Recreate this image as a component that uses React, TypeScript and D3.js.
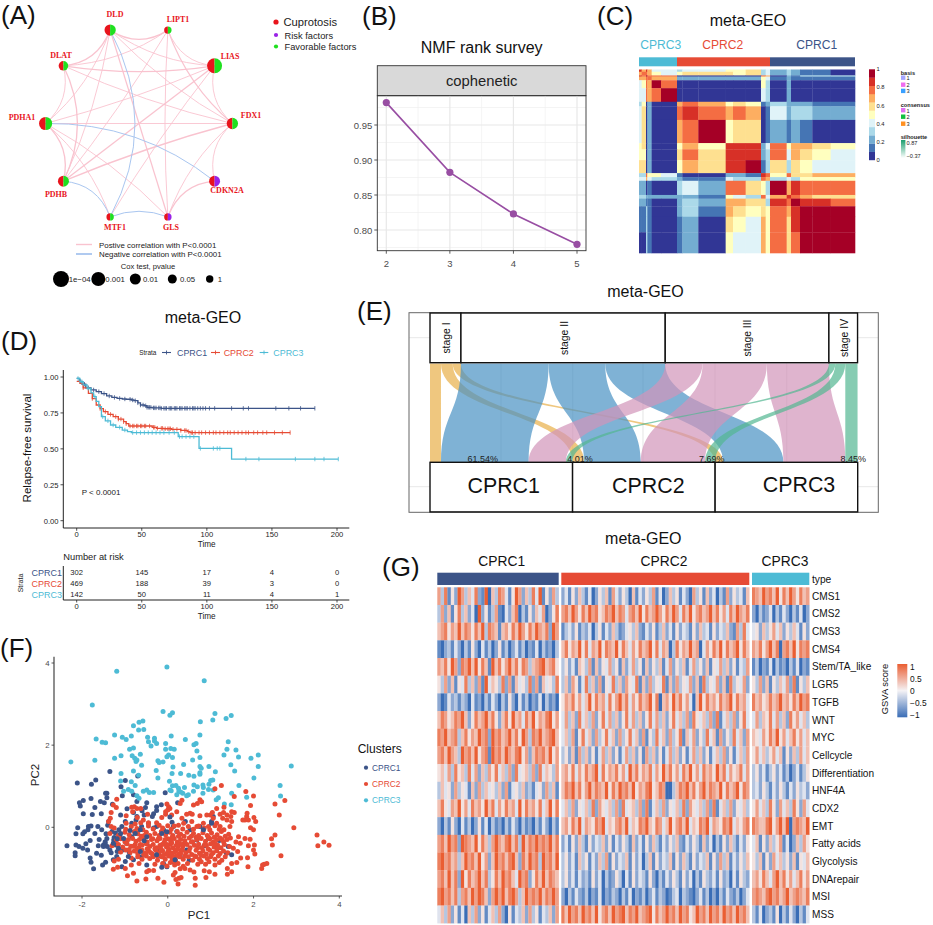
import React from "react";
import * as d3 from "d3";

const SANS = "'Liberation Sans', Arial, sans-serif";
const C1 = "#3c5488", C2 = "#e64b35", C3 = "#4dbbd5";
const clusterNames = ["CPRC1", "CPRC2", "CPRC3"];
const clusterColors = [C1, C2, C3];

/* ---------- A: network ---------- */
const geneNames = ["FDX1", "LIAS", "LIPT1", "DLD", "DLAT", "PDHA1", "PDHB", "MTF1", "GLS", "CDKN2A"];
const geneLogP = [2.1, 3.5, 0, 2.1, 1.5, 2.7, 2, 0, 0, 2];
const geneRisk = ["CDKN2A", "GLS"];
const positiveEdges: [string, string][] = [
  ["DLD", "LIPT1"], ["DLD", "LIAS"], ["DLD", "FDX1"], ["DLD", "DLAT"], ["DLD", "PDHA1"], ["DLD", "PDHB"], ["DLD", "GLS"],
  ["LIPT1", "LIAS"], ["LIPT1", "DLAT"], ["LIPT1", "FDX1"], ["LIPT1", "GLS"], ["LIPT1", "PDHB"],
  ["DLAT", "LIAS"], ["DLAT", "FDX1"], ["DLAT", "PDHA1"], ["DLAT", "PDHB"],
  ["LIAS", "FDX1"], ["LIAS", "PDHA1"], ["LIAS", "PDHB"], ["LIAS", "MTF1"],
  ["FDX1", "PDHA1"], ["FDX1", "PDHB"], ["FDX1", "CDKN2A"], ["FDX1", "GLS"],
  ["PDHA1", "PDHB"], ["PDHA1", "MTF1"], ["PDHA1", "GLS"], ["CDKN2A", "GLS"],
];
const negativeEdges: [string, string, number][] = [
  ["DLD", "MTF1", 1.72], ["PDHA1", "CDKN2A", 1.05], ["PDHB", "MTF1", 0.2], ["MTF1", "GLS", 0.12],
];
const coxLabels = ["1e\u221204", "0.001", "0.01", "0.05", "1"];
const coxLogP = [4, 3, 2, 1.3, 0];
const factorNames = ["Cuprotosis", "Risk factors", "Favorable factors"];

/* ---------- B: rank survey ---------- */
const ranks = [2, 3, 4, 5];
const cophenetic = [0.982, 0.8824, 0.8229, 0.7796];

/* ---------- C: consensus matrix (symmetric blocks, level 0-a) ---------- */
const consensusBreaks = [0, 8, 21, 25, 38, 66, 114, 130, 178, 260, 282, 320, 366, 380, 393, 443, 456, 483, 520, 575, 648];
const consensusUpper = [
  "97974434455634232110", "8875456665634232110", "a88800000087021333", "87722222254121111",
  "a800000053020000", "a00000043020000", "78756512322211", "9878701423322", "a56601212100",
  "99924857765", "9923847654", "a13636544", "98586677", "7343555", "a79888", "98766", "a998", "aaa", "aa", "a",
];
const consensusPalette = ["#313695", "#4575b4", "#74add1", "#abd9e9", "#e0f3f8", "#ffffbf", "#fee090", "#fdae61", "#f46d43", "#d73027", "#a50026"];
const consensusTicks = [0, 0.2, 0.4, 0.6, 0.8, 1];

/* ---------- D: survival ---------- */
const km1T = [0, 2, 4, 7, 11, 15, 19, 23, 27, 31, 35, 38, 42, 44, 47, 49, 52, 54, 58, 65, 183];
const km1S = [0.99, 0.97, 0.95, 0.925, 0.91, 0.898, 0.885, 0.868, 0.858, 0.851, 0.847, 0.845, 0.84, 0.835, 0.82, 0.805, 0.8, 0.789, 0.785, 0.782, 0.782];
const km2T = [0, 2.5, 5, 9, 12, 15, 18, 20.5, 24, 28, 32, 36, 38, 40, 54, 58, 61.5, 67, 73, 80, 85, 87, 164];
const km2S = [0.97, 0.956, 0.925, 0.886, 0.85, 0.805, 0.78, 0.759, 0.74, 0.724, 0.707, 0.689, 0.675, 0.659, 0.659, 0.65, 0.643, 0.64, 0.636, 0.628, 0.62, 0.613, 0.613];
const km3T = [0, 2.5, 5, 8, 11, 13, 15, 17, 19, 22, 26, 30, 35, 39, 42, 77, 78, 92, 94, 119, 201];
const km3S = [0.99, 0.967, 0.945, 0.92, 0.89, 0.863, 0.83, 0.794, 0.724, 0.695, 0.666, 0.65, 0.631, 0.62, 0.613, 0.613, 0.585, 0.585, 0.503, 0.429, 0.429];
const km1Cens = [3, 6, 9, 13, 17, 21, 25, 29, 33, 37, 41, 43, 45, 47, 49, 51, 53, 54, 55, 56, 57, 59, 60, 61, 63, 64, 65, 67, 68, 69, 71, 72, 73, 75, 76, 77, 79, 80, 81, 83, 84, 85, 87, 89, 90, 91, 93, 95, 97, 99, 102, 106, 119, 128, 132, 153, 163, 172, 183];
const km2Cens = [5, 12, 18, 22, 26, 30, 32, 34, 36, 38, 41, 43, 44, 46, 47, 49, 50, 52, 53, 56, 59, 60, 62, 65, 66, 68, 70, 71, 72, 74, 77, 80, 83, 84, 86, 88, 89, 91, 94, 96, 99, 102, 105, 107, 110, 113, 116, 118, 121, 124, 127, 130, 132, 136, 139, 143, 146, 152, 158, 164];
const km3Cens = [1, 4, 9, 14, 20, 24, 28, 33, 37, 43, 46, 49, 52, 55, 58, 61, 64, 67, 71, 75, 79, 81, 84, 87, 90, 95, 105, 108, 110, 130, 140, 168, 183, 190, 201];
const riskTimes = [0, 50, 100, 150, 200];
const risk1 = [302, 145, 17, 4, 0];
const risk2 = [469, 188, 39, 3, 0];
const risk3 = [142, 50, 11, 4, 1];
const survTicks = [0, 0.25, 0.5, 0.75, 1];

/* ---------- E: alluvial (percent of each cluster) ---------- */
const stageNames = ["stage I", "stage II", "stage III", "stage IV"];
const stageI = [7.7, 8.2, 5.8];
const stageII = [61.5, 39.7, 42.1];
const stageIII = [26.2, 45.1, 43.5];
const stageIV = [4.5, 7.0, 8.6];
const stageColors = ["#E8AF48", "#4892C3", "#D194B9", "#52B691"];
const pctLabels = ["61.54%", "4.01%", "7.69%", "8.45%"];

/* ---------- F: PCA ---------- */
const pcaC1 = [-1.35,1.36,-2.11,1.08,-1.78,1.05,-1.68,1.15,-.7,1.25,-.99,1.14,-1.09,.99,-1.42,.83,-1.45,.83,-1.42,.72,-1.97,.65,-2.06,.6,-2.04,.52,-1.79,.7,-1.57,.63,-1.48,.6,-1.7,.48,-1.97,.33,-1.55,.33,-1.76,.31,-1.29,.56,-1.06,.77,-.8,.79,-.72,.63,-.49,.6,-.52,.48,-.06,.84,-.26,.5,-.26,.41,-.33,.33,-.8,.36,-.72,.26,-.55,.3,-.36,.26,.23,.6,-2.1,-.01,-1.85,.02,-1.79,.03,-1.86,-.06,-1.94,-.11,-1.98,-.16,-2.14,-.16,-2.35,-.45,-2.14,-.43,-2.07,-.47,-1.98,-.51,-2.16,-.62,-2.16,-.69,-1.87,-.55,-1.81,-.32,-1.91,-.4,-1.66,-.63,-1.55,-.68,-1.81,-.75,-1.79,-.85,-1.73,-1.01,-1.52,-.92,-1.45,-.85,-1.27,-.79,-1.19,-.71,-1.63,.02,-1.54,-.06,-1.38,.14,-1.44,-.16,-1.42,-.27,-1.46,-.35,-1.5,-.43,-1.41,-.47,-1.35,-.55,-1.18,-.59,-1.22,-.43,-1.26,-.31,-1.22,-.14,-1.14,-.06,-1.07,.02,-.99,.14,-.84,.1,-.74,.18,-.61,.02,-.45,.1,-.33,-.02,-.26,.02,-.1,-.06,-.06,-.14,.13,.02,.21,-.1,.52,-.06,.75,.02,.83,-.06,1.02,.14,1.06,.26,.95,-.27,.68,-.31,.44,-.55,.29,-.71,-.1,-.88,-.02,-.96,-.49,-.92,-.8,-.79,-.99,-.83,-1.07,-.96,-.64,-.55,-.96,-.39,-.84,-.23,-.72,-.14,-.49,-.39,-.26,-.55,1.37,-.63,1.41,-.47,.41,.14,-1.12,-.2,-1.05,-.55,-.9,-.6,-.62,-.72,-.2,-.7,.15,-.85,.5,-.8,.85,-.45,1.2,-.32,-1.25,-.25,-1.3,-.1,-1.4,.05,-1.6,-.3,-1.62,-.45,-1.7,-.15,-1.1,.3,-.95,.45,-.6,.4,-.15,.55,.1,.12];
const pcaC1Top = [-.02,-.11,-.14,-.15,-.64,-.06,-.76,-.15,-.49,-.23,-1.03,-.27,-1.27,-.39,-1.15,-.51,-1.46,-.39,-1.5,-.47,-.26,-.67,.17,-.79,.83,-.06,1.02,.1,1.49,-.67,-.14,-.97,-.64,-.59,-.92,-.71,-1.1,-.15,-1.18,-.28,-.88,-.08,-.55,-.33,-1.32,-.62,.05,.25];
const pcaC3 = [-1.19,3.8,-.02,3.9,.85,3.57,-1.76,2.98,-.11,2.82,.11,2.79,.05,2.73,1.1,2.77,1.48,2.72,1.36,2.65,1.05,2.61,.76,2.57,-.67,2.56,-.58,2.59,-.8,2.47,-.68,2.37,-.56,2.38,-1.24,2.25,-1.67,2.15,-1.53,2.07,-1.45,2.06,-1.06,2.19,-.97,2.14,-.85,2.22,-.47,2.19,-.45,2.08,-.31,2.17,-.31,2.1,-.26,2.04,-.39,1.98,-.05,2.04,.08,2.22,.41,2.14,.75,2.25,.61,2.01,.66,2.04,1.41,2.08,-2.26,1.59,-1.7,1.63,-1.24,1.68,-1.09,1.74,-.89,1.9,-.8,1.93,-.64,1.78,-.83,1.74,-.77,1.68,-.72,1.64,-.74,1.6,-.61,1.51,-.23,1.62,-.2,1.58,-.11,1.59,-.05,1.9,.07,1.92,.15,1.9,.02,1.76,-.02,1.72,.11,1.7,.68,1.86,.75,1.7,.58,1.64,.37,1.53,.12,1.47,.75,1.48,.78,1.44,.96,1.48,1.31,1.76,1.38,1.9,1.59,1.88,1.65,1.71,1.47,1.52,1.56,1.37,1.94,1.68,2.11,1.76,2.11,1.48,2.88,1.49,2.01,1.2,1.11,1.35,.75,1.33,.75,1.29,.49,1.27,.61,1.24,.3,1.31,.1,1.31,.04,1.12,-.27,1.38,-.23,1.2,-.8,1.37,-1.09,1.31,-.68,1.27,-.85,1.11,-1.1,1.13,-.76,1.02,-.92,.92,-1.03,.88,-.84,.88,-.57,.88,-.49,.91,-.43,.85,-.33,.85,-.72,.77,-.67,.71,.05,.91,.11,1.01,.19,1.02,.08,.89,.25,.95,.26,.88,.3,.86,.39,.97,.21,.79,.35,.83,.48,.79,.44,.77,.61,1.03,.69,.99,.82,1.03,.83,.97,.6,.88,.82,.83,.96,1.05,1,1.14,1.05,1.15,.95,.92,1.06,.91,1.18,.72,1.13,.67,1.32,.57,1.48,.55,1.49,.83,1.66,1.02,2.62,1.02,2.63,.76,1.84,.73];
const pcaC2 = [3.48,-.19,3.5,-.45,3.64,-.36,3.76,-.44,2.94,-.01,2.73,.65,2.5,.57,2.6,.3,2.5,-.19,2.42,-.28,2.44,-.43,2.64,-.69,2.31,-.88,2.25,-.9,2.21,-.92,2.19,-1,2,.76,1.82,.87,1.93,.53,1.55,.75,1.25,1.02,1.1,.94,2.01,.24,2.05,.14,1.85,.34,1.84,.26,1.8,.18,1.75,.18,1.88,.18,1.93,-.01,2,-.06,2.02,-.43,2,-.55,2.03,-.65,1.88,-.45,1.8,-.27,1.92,-.29,1.65,-.23,1.59,-.36,1.69,-.39,1.53,-.51,1.63,-.59,1.86,-.74,1.7,-.75,1.61,-.86,1.87,-.96,1.49,-.88,1.39,-1,1.39,-1.14,1.49,-1.08,.64,-1.41,.24,-1.38,.26,-1.24,.31,-1.22,.19,-1.27,-.09,-1.34,-.23,-1.24,-.51,-1.26,-.72,-1.31,-.94,-1.18,-.8,-1.12,-.49,-1.08,-.44,-1.05,-.33,-1.05,.13,-1.16,.17,-1.1,.64,-1.24,.89,-1.22,.85,-1.06,.97,-1.08,1.1,-1.14,.61,-1.09,.52,-1.04,.4,-1,.29,-1.01,-1.27,-1.02,-1.17,-.97,-.99,-1,-.85,-.92,-.67,-.88,-1.19,.68,-1.27,.54,-1.2,.48,-1.32,.36,-1.38,.14,-1.34,.22,-.97,.28,-.84,.49,-.78,.5,-.72,.46,-.82,.38,-.63,.46,-.47,.32,-.71,.24,-.97,.1,-.76,.08,-.63,.11,-.57,.18,-.45,.11,-.26,.11,-.14,.24,-.05,.38,-.02,.57,.02,.5,.05,.46,0,.42,-.05,.32,.09,.3,.21,.38,.33,.66,.29,.58,.6,.54,.69,.58,.79,.62,.75,.67,1.14,.46,1.31,.49,1.04,.36,.99,.3,1.22,.32,1.3,.36,1.38,.3,1.49,.38,1.55,.36,1.47,.26,1.38,.18,1.28,.22,1.49,.14,1.45,.02,1.06,.22,.91,.3,.75,.28,.57,.32,.52,.34,.44,.32,.33,.22,.37,.1,.56,.14,.68,.02,.83,.1,.95,.02,1.14,.1,1.22,.02,1.31,-.06,
-1.35,-.15,-1.15,-.2,-1,-.12,-.9,-.18,-.78,-.1,-.7,-.16,-.62,-.22,-.5,-.12,-.42,-.2,-.3,-.15,-.15,-.1,-.05,-.18,.05,-.12,.12,-.2,.22,-.1,.3,-.17,.38,-.22,.45,-.12,.6,-.15,.72,-.2,.82,-.13,.92,-.2,1.02,-.14,1.15,-.18,1.25,-.1,1.34,-.22,1.42,-.17,
-1.2,-.32,-1.1,-.28,-1,-.35,-.92,-.3,-.82,-.27,-.74,-.34,-.66,-.3,-.56,-.28,-.48,-.36,-.38,-.3,-.25,-.33,-.18,-.27,-.08,-.36,0,-.28,.08,-.34,.15,-.27,.22,-.36,.3,-.3,.4,-.33,.5,-.26,.58,-.35,.68,-.3,.78,-.27,.88,-.34,.98,-.28,1.06,-.36,1.14,-.3,1.22,-.26,1.3,-.35,1.38,-.3,1.46,-.26,
-1.3,-.45,-1.15,-.42,-1.05,-.48,-.95,-.4,-.86,-.46,-.76,-.42,-.68,-.5,-.6,-.44,-.5,-.4,-.42,-.47,-.34,-.42,-.26,-.5,-.18,-.44,-.1,-.4,-.03,-.48,.05,-.42,.12,-.5,.2,-.44,.27,-.4,.35,-.47,.45,-.42,.52,-.5,.62,-.44,.72,-.41,.8,-.5,.9,-.44,1,-.4,1.08,-.48,1.16,-.43,1.24,-.5,1.32,-.42,1.44,-.47,
-1.1,-.6,-.98,-.55,-.88,-.62,-.78,-.58,-.7,-.64,-.6,-.56,-.52,-.63,-.44,-.58,-.36,-.65,-.28,-.56,-.2,-.62,-.12,-.57,-.04,-.65,.03,-.56,.1,-.63,.18,-.58,.26,-.65,.34,-.55,.42,-.62,.5,-.58,.56,-.66,.66,-.56,.74,-.63,.82,-.58,.9,-.65,.98,-.56,1.06,-.62,1.14,-.57,1.22,-.64,1.3,-.58,1.4,-.62,
-1.25,-.82,-1.15,-.78,-.85,-.75,-.7,-.72,-.6,-.78,-.5,-.7,-.42,-.76,-.34,-.72,-.24,-.8,-.14,-.72,-.06,-.78,.02,-.7,.1,-.76,.18,-.8,.28,-.72,.36,-.78,.48,-.72,.58,-.8,.66,-.72,.74,-.78,.84,-.7,.92,-.76,1,-.72,1.1,-.78,1.18,-.7,1.26,-.8,1.34,-.72,
-.3,-.9,-.12,-.88,-.02,-.94,.06,-.86,.16,-.92,.24,-.88,.36,-.95,.46,-.88,.7,-.9,.78,-.84,.88,-.9,.96,-.84,1.1,-.92,1.2,-.86,
-1.32,.02,-1.25,-.02,-.98,-.05,-.85,.02,-.72,-.03,-.58,-.06,-.45,.03,-.34,-.04,-.2,.05,-.12,-.02,0,.04,.08,-.05,.15,.03,.25,.05,.35,-.04,.48,.02,.6,-.05,.72,.03,.85,-.02,.98,-.06,1.1,.04,1.2,-.05,
-.22,-.28,-.13,-.42,-.06,-.3,.02,-.52,.09,-.38,.16,-.6,.24,-.46,.31,-.55,-.3,-.52,-.16,-.52,-.02,-.42,.07,-.68,.14,-.72,.22,-.54,.3,-.64,.38,-.4,-.24,-.7,-.1,-.68,0,-.6,.05,-.3,.12,-.82,.2,-.7,.4,-.7,.55,-.36,.63,-.7,.7,-.5,.78,-.68,.86,-.42,.94,-.52,1.02,-.66,1.1,-.4,1.18,-.5,1.26,-.3,.33,-.42,-.4,-.62,-.48,-.52,-.56,-.66,-.64,-.42,-.72,-.52,-.8,-.46,-.9,-.54,-.55,-.2,-.35,-.28,-.2,-.2,.1,-.24,.25,-.22,.55,-.22,.66,-.24,.95,-.24,1.08,-.24];

/* ---------- G: GSVA heat map (one digit per column, 0 = -1 ... 9 = +1; groups split by a space) ---------- */
const gsvaRows = ["CMS1", "CMS2", "CMS3", "CMS4", "Stem/TA_like", "LGR5", "TGFB", "WNT", "MYC", "Cellcycle", "Differentiation", "HNF4A", "CDX2", "EMT", "Fatty acids", "Glycolysis", "DNArepair", "MSI", "MSS"];
const gsvaCells = [
  "738152973648219063874159726384915273 24152631402536174253061425371402635142073516240317253416 87697869586975867",
  "372615836240925137104268031526470258 78697586978568796874786958679758697486957867968574869768 20312403142031402",
  "678576968758693876167586975869768297 13425132403514263124536214251362415243152634152436217384 45263574625364152",
  "102314203152041302513024130214031203 68576958476958769586475867958476038576967047586958679586 76857968078695878",
  "768597287969586196857968587367896785 35241653716254735162473516253614725361473526154736251437 13021403120314021",
  "537261548362719465382716453827164538 36275148362715483627548162735481627354726183547261835472 53726153647281536",
  "201423132041203142031520413021403120 57685746958674857968475867958067596857406958675867958674 86756867967586978",
  "687568796258679685268596748695768957 47362846372584736258473625847362584637285463728146372584 47365847362857463",
  "879678368576978297867968597387967896 46371584627358462735846271538462735816472538461725384627 65475869574685746",
  "786976397869578197869768957268786957 35261736251473625147362517362514736251473625146372514637 57463574615263746",
  "564738563847263758463728456372846537 67584758679485768574968576847596857486957486759684756847 35241352413024135",
  "364527354162736453627145362314527361 68796857968769586978695768956870036879685796876958679587 34253142531425342",
  "685476957486759684758674958675846958 46372546382754637284563728146372546382754637281463725463 57463852746385274",
  "203152041302514031203142031203142031 67586947658794657869465879658746957869465879476587946578 87668957969078769",
  "786978298769586379768968396879787968 24152631524362514253162415263142536214253162403152631425 46152635714026375",
  "897867369786957269786896286978397869 35241635142637152436152403615243615263152436152736142536 53615274635261546",
  "786968295867968358697864978258696876 35241423152403125304152431520314253152403153241523041532 67586479685746857",
  "897868378697986279796897369787968797 20314213021402132031402130241320134032102413020314213024 78768978679678768",
  "463725140637251463720514362735143627 86978697869578697896879678958679786978569786978697869786 31402315031420314",
];
const gsvaTicks = [1, 0.5, 0, -0.5, -1];
const gsvaColor = d3.scaleLinear<string>().domain([-1, 0, 1]).range(["#3a6db6", "#f4f2f5", "#ea5e32"]);

function Label({ x, y, t }: { x: number; y: number; t: string }) {
  return <text x={x} y={y} fontSize={26} fill="#111">{t}</text>;
}

function pairs(flat: number[]) {
  return d3.range(0, flat.length - 1, 2).map((i) => [flat[i], flat[i + 1]]);
}

function PanelA() {
  const cx = 139, cy = 123.5, rx = 93.4, ry = 98.2;
  const angle = d3.scaleLinear().domain([0, geneNames.length]).range([0, -2 * Math.PI]);
  const pos = (n: string) => {
    const i = geneNames.indexOf(n);
    return [cx + rx * Math.cos(angle(i)), cy + ry * Math.sin(angle(i))];
  };
  const radius = d3.scaleLinear().domain([0, 1.3, 2, 3, 4]).range([3.7, 4.5, 5.5, 7, 8]);
  const curve = (a: string, b: string, k: number) => {
    const [x0, y0] = pos(a), [x1, y1] = pos(b);
    const mx = (x0 + x1) / 2, my = (y0 + y1) / 2;
    const p = d3.path();
    p.moveTo(x0, y0);
    p.quadraticCurveTo(mx + (cx - mx) * k, my + (cy - my) * k, x1, y1);
    return p.toString();
  };
  const labelOff: Record<string, [number, number]> = {
    DLD: [115, 17], LIPT1: [178, 22], LIAS: [230, 59], FDX1: [251, 118], CDKN2A: [227, 193],
    GLS: [171, 230], MTF1: [115, 230], PDHB: [56, 197], PDHA1: [22, 120], DLAT: [61, 58],
  };
  const half = d3.arc<any>().innerRadius(0);
  return (
    <g>
      {positiveEdges.map(([a, b], i) => {
        const bent = (a === "DLAT" && b === "PDHB") ? 0.37 : (a === "DLAT" && b === "FDX1") ? 0.3 : 0.2;
        return <path key={i} d={curve(a, b, bent)} fill="none" stroke="#f9c3cf" strokeWidth={i % 3 === 0 ? 1.3 : 0.9} />;
      })}
      {negativeEdges.map(([a, b, k], i) => (
        <path key={i} d={curve(a, b, k)} fill="none" stroke="#a9c6f0" strokeWidth={1} />
      ))}
      {geneNames.map((n, i) => {
        const [x, y] = pos(n);
        const r = radius(geneLogP[i]);
        return (
          <g key={n} transform={`translate(${x},${y})`}>
            <path d={half({ outerRadius: r, startAngle: Math.PI, endAngle: 2 * Math.PI }) as string} fill="#e8141c" />
            <path d={half({ outerRadius: r, startAngle: 0, endAngle: Math.PI }) as string} fill={geneRisk.includes(n) ? "#9a22e6" : "#1fe01f"} />
          </g>
        );
      })}
      {geneNames.map((n) => (
        <text key={n} x={labelOff[n][0]} y={labelOff[n][1]} textAnchor="middle" fontFamily="'Liberation Serif', serif" fontWeight="bold" fontSize={8} fill="#e8141c">{n}</text>
      ))}
      {factorNames.map((n, i) => (
        <g key={n}>
          <circle cx={276} cy={[22, 35, 46.5][i]} r={i === 0 ? 2.6 : 2.1} fill={["#e8141c", "#9a22e6", "#1fe01f"][i]} />
          <text x={i === 0 ? 283.5 : 284.5} y={[26, 38.5, 50][i]} fontSize={i === 0 ? 11.2 : 9.3} fill="#222">{n}</text>
        </g>
      ))}
      <line x1={76} x2={92} y1={244.5} y2={244.5} stroke="#f9c3cf" strokeWidth={1.4} />
      <line x1={76} x2={92} y1={254} y2={254} stroke="#8fb4ea" strokeWidth={1.4} />
      <text x={99} y={247.5} fontSize={7.9} fill="#222">Postive correlation with P&lt;0.0001</text>
      <text x={99} y={257} fontSize={7.9} fill="#222">Negative correlation with P&lt;0.0001</text>
      <text x={148} y={269} fontSize={7.6} textAnchor="middle" fill="#222">Cox test, pvalue</text>
      {coxLabels.map((t, i) => {
        const x = [61, 98.3, 135.3, 172.3, 209.7][i];
        return (
          <g key={t}>
            <circle cx={x} cy={279} r={radius(coxLogP[i])} fill="#000" />
            <text x={x + [7.7, 7, 7.7, 7.7, 8][i]} y={282} fontSize={7.8} fill="#222">{t}</text>
          </g>
        );
      })}
    </g>
  );
}

function PanelB() {
  const x = d3.scaleLinear().domain([2, 5]).range([386.3, 577]);
  const y = d3.scaleLinear().domain([0.8, 0.95]).range([230, 125]);
  const left = 377.3, right = 586, top = 95.7, bottom = 250.7;
  const line = d3.line<number>().x((_, i) => x(ranks[i])).y((d) => y(d));
  const majorY = [0.8, 0.85, 0.9, 0.95];
  const minorY = [0.775, 0.825, 0.875, 0.925, 0.975];
  const minorX = [2.5, 3.5, 4.5];
  return (
    <g>
      <text x={481.7} y={53} fontSize={16} textAnchor="middle" fill="#111">NMF rank survey</text>
      <rect x={left} y={65.7} width={right - left} height={30} fill="#d9d9d9" stroke="#333" strokeWidth={0.9} />
      <text x={481.7} y={85.5} fontSize={14.8} textAnchor="middle" fill="#222">cophenetic</text>
      {minorY.map((v) => <line key={v} x1={left} x2={right} y1={y(v)} y2={y(v)} stroke="#efefef" strokeWidth={0.7} />)}
      {minorX.map((v) => <line key={v} x1={x(v)} x2={x(v)} y1={top} y2={bottom} stroke="#efefef" strokeWidth={0.7} />)}
      {majorY.map((v) => <line key={v} x1={left} x2={right} y1={y(v)} y2={y(v)} stroke="#e8e8e8" strokeWidth={1.2} />)}
      {ranks.map((v) => <line key={v} x1={x(v)} x2={x(v)} y1={top} y2={bottom} stroke="#e8e8e8" strokeWidth={1.2} />)}
      <rect x={left} y={top} width={right - left} height={bottom - top} fill="none" stroke="#333" strokeWidth={0.9} />
      <path d={line(cophenetic) as string} fill="none" stroke="#984ea3" strokeWidth={1.6} />
      {cophenetic.map((v, i) => <circle key={i} cx={x(ranks[i])} cy={y(v)} r={3.6} fill="#984ea3" />)}
      {majorY.map((v) => (
        <g key={v}>
          <line x1={left - 3} x2={left} y1={y(v)} y2={y(v)} stroke="#333" strokeWidth={0.8} />
          <text x={left - 5} y={y(v) + 3.5} fontSize={9.5} textAnchor="end" fill="#4d4d4d">{v.toFixed(2)}</text>
        </g>
      ))}
      {ranks.map((v) => (
        <g key={v}>
          <line x1={x(v)} x2={x(v)} y1={bottom} y2={bottom + 3} stroke="#333" strokeWidth={0.8} />
          <text x={x(v)} y={267} fontSize={9.5} textAnchor="middle" fill="#4d4d4d">{v}</text>
        </g>
      ))}
    </g>
  );
}

function PanelC() {
  const sx = d3.scaleLinear().domain([0, 648]).range([639, 855]);
  const sy = d3.scaleLinear().domain([0, 648]).range([69.5, 253]);
  const n = consensusBreaks.length - 1;
  const level = (i: number, j: number) => {
    const a = Math.min(i, j), b = Math.max(i, j);
    return parseInt(consensusUpper[a][b - a], 16);
  };
  const barY = d3.scaleLinear().domain([0, 1]).range([160, 69.3]);
  const annot = [0, 114, 393, 648];
  const annotColors = [C3, C2, C1];
  const annotCenters = [660.7, 722.7, 816.7];
  const annotNames = ["CPRC3", "CPRC2", "CPRC1"];
  const basis = ["#a6a6ff", "#f06ef0", "#3aa0ff"];
  const consensus = ["#e070f0", "#10c040", "#ff9020"];
  return (
    <g>
      <text x={748} y={26} fontSize={16} textAnchor="middle" fill="#111">meta-GEO</text>
      {annotNames.map((t, i) => (
        <g key={t}>
          <text x={annotCenters[i]} y={49.3} fontSize={12.1} textAnchor="middle" fill={annotColors[i]}>{t}</text>
          <rect x={sx(annot[i])} y={57.3} width={sx(annot[i + 1]) - sx(annot[i])} height={9} fill={annotColors[i]} />
        </g>
      ))}
      {d3.range(n).map((r) =>
        d3.range(n).map((c) => (
          <rect key={`${r}-${c}`} x={sx(consensusBreaks[c])} y={sy(consensusBreaks[r])}
            width={sx(consensusBreaks[c + 1]) - sx(consensusBreaks[c]) + 0.3}
            height={sy(consensusBreaks[r + 1]) - sy(consensusBreaks[r]) + 0.3}
            fill={consensusPalette[level(r, c)]} />
        ))
      )}
      {consensusPalette.map((col, i) => (
        <rect key={col} x={869} width={6} y={barY((i + 1) / 11)} height={barY(i / 11) - barY((i + 1) / 11) + 0.2} fill={col} />
      ))}
      {consensusTicks.map((v) => (
        <text key={v} x={876.5} y={barY(v) + 2} fontSize={5.8} fill="#222">{v}</text>
      ))}
      <text x={900.7} y={74.5} fontSize={5.6} fontWeight="bold" fill="#222">basis</text>
      {basis.map((col, i) => (
        <g key={col}>
          <rect x={901} y={[75.5, 82.5, 88.7][i]} width={4.4} height={4.4} fill={col} />
          <text x={906.5} y={[80, 87, 93][i]} fontSize={5.6} fill="#222">{i + 1}</text>
        </g>
      ))}
      <text x={900.7} y={106.5} fontSize={5.6} fontWeight="bold" fill="#222">consensus</text>
      {consensus.map((col, i) => (
        <g key={col}>
          <rect x={901} y={[108, 114.5, 121.5][i]} width={4.4} height={4.4} fill={col} />
          <text x={906.5} y={[112.5, 119, 126][i]} fontSize={5.6} fill="#222">{i + 1}</text>
        </g>
      ))}
      <text x={900.7} y={138.5} fontSize={5.6} fontWeight="bold" fill="#222">silhouette</text>
      <defs>
        <linearGradient id="sil" x1="0" y1="0" x2="0" y2="1">
          <stop offset="0" stopColor="#1b9e6f" />
          <stop offset="1" stopColor="#ffffff" />
        </linearGradient>
        <linearGradient id="gsva" x1="0" y1="0" x2="0" y2="1">
          {[1, 0.5, 0, -0.5, -1].map((v, i) => <stop key={i} offset={i / 4} stopColor={gsvaColor(v)} />)}
        </linearGradient>
      </defs>
      <rect x={901} y={140} width={4.4} height={18} fill="url(#sil)" />
      <text x={906.5} y={145} fontSize={5.6} fill="#222">0.87</text>
      <text x={906.5} y={157.5} fontSize={5.6} fill="#222">{"\u22120.37"}</text>
    </g>
  );
}

function PanelD() {
  const x = d3.scaleLinear().domain([0, 200]).range([76.7, 337]);
  const y = d3.scaleLinear().domain([0, 1]).range([520.7, 377]);
  const curves = [
    { t: km1T, s: km1S, cens: km1Cens },
    { t: km2T, s: km2S, cens: km2Cens },
    { t: km3T, s: km3S, cens: km3Cens },
  ];
  const step = d3.line<[number, number]>().curve(d3.curveStepAfter).x((d) => x(d[0])).y((d) => y(d[1]));
  const valueAt = (t: number[], s: number[], v: number) => s[Math.max(0, d3.bisectRight(t, v) - 1)];
  const rowY = [572.5, 583.5, 594.5];
  const risks = [risk1, risk2, risk3];
  const legendX = [[162, 171, 177], [211, 220, 223.7], [259.7, 268.3, 273.3]];
  return (
    <g>
      <text x={203} y={322.7} fontSize={16} textAnchor="middle" fill="#111">meta-GEO</text>
      <text x={139.3} y={355} fontSize={6.4} fill="#222">Strata</text>
      {clusterNames.map((n, i) => (
        <g key={n}>
          <line x1={legendX[i][0]} x2={legendX[i][1]} y1={352.5} y2={352.5} stroke={clusterColors[i]} strokeWidth={1.1} />
          <line x1={(legendX[i][0] + legendX[i][1]) / 2} x2={(legendX[i][0] + legendX[i][1]) / 2} y1={350.5} y2={354.5} stroke={clusterColors[i]} strokeWidth={0.9} />
          <text x={legendX[i][2]} y={356} fontSize={8.9} fill={clusterColors[i]}>{n}</text>
        </g>
      ))}
      <path d={`M63.3,370V528H349.3`} fill="none" stroke="#222" strokeWidth={1} />
      {survTicks.map((v) => (
        <g key={v}>
          <line x1={60.5} x2={63.3} y1={y(v)} y2={y(v)} stroke="#222" strokeWidth={0.8} />
          <text x={58.5} y={y(v) + 2.8} fontSize={7.6} textAnchor="end" fill="#222">{v.toFixed(2)}</text>
        </g>
      ))}
      {riskTimes.map((v) => (
        <g key={v}>
          <line x1={x(v)} x2={x(v)} y1={528} y2={530.8} stroke="#222" strokeWidth={0.8} />
          <text x={x(v)} y={537} fontSize={7.6} textAnchor="middle" fill="#222">{v}</text>
          <line x1={x(v)} x2={x(v)} y1={600} y2={602.5} stroke="#222" strokeWidth={0.8} />
          <text x={x(v)} y={609} fontSize={7.6} textAnchor="middle" fill="#222">{v}</text>
        </g>
      ))}
      <text x={206.7} y={546.5} fontSize={8.2} textAnchor="middle" fill="#222">Time</text>
      <text x={206.7} y={618.5} fontSize={8.2} textAnchor="middle" fill="#222">Time</text>
      <text transform="translate(31,448) rotate(-90)" fontSize={11.6} textAnchor="middle" fill="#111">Relapse-free survival</text>
      <text x={81.7} y={495} fontSize={8} fill="#222">P &lt; 0.0001</text>
      {curves.map((c, i) => (
        <g key={i}>
          <path d={step(c.t.map((t, k) => [t, c.s[k]]) as [number, number][]) as string} fill="none" stroke={clusterColors[i]} strokeWidth={1.3} />
          {c.cens.map((t, k) => {
            const v = valueAt(c.t, c.s, t);
            return <line key={k} x1={x(t)} x2={x(t)} y1={y(v) - 2.2} y2={y(v) + 2.2} stroke={clusterColors[i]} strokeWidth={0.8} />;
          })}
        </g>
      ))}
      <text x={63.3} y={560} fontSize={9.3} fill="#222">Number at risk</text>
      <path d={`M63.3,566V600H349.3`} fill="none" stroke="#222" strokeWidth={1} />
      <text transform="translate(23,583) rotate(-90)" fontSize={7} textAnchor="middle" fill="#222">Strata</text>
      {clusterNames.map((n, i) => (
        <g key={n}>
          <text x={62} y={rowY[i] + 3.2} fontSize={9} textAnchor="end" fill={clusterColors[i]}>{n}</text>
          {risks[i].map((v, k) => (
            <text key={k} x={x(riskTimes[k])} y={rowY[i] + 2.8} fontSize={7.6} textAnchor="middle" fill="#222">{v}</text>
          ))}
        </g>
      ))}
    </g>
  );
}

function PanelE() {
  const stages = [stageI, stageII, stageIII, stageIV];
  const sx = d3.scaleLinear().domain([0, 300]).range([430, 857.7]);
  const yTop = 363.4, yBot = 462.3;
  const stageTotals = stages.map((s) => d3.sum(s));
  const topStart = d3.cumsum([0, ...stageTotals]);
  const botOffset = [0, 0, 0];
  const ribbons: { s: number; d: string }[] = [];
  stages.forEach((row, s) => {
    let t = topStart[s];
    row.forEach((v, c) => {
      const b = c * 100 + botOffset[c];
      botOffset[c] += v;
      const x0 = sx(t), x1 = sx(t + v), x2 = sx(b), x3 = sx(b + v);
      const m = (yTop + yBot) / 2;
      const p = d3.path();
      p.moveTo(x0, yTop);
      p.lineTo(x1, yTop);
      p.bezierCurveTo(x1, m, x3, m, x3, yBot);
      p.lineTo(x2, yBot);
      p.bezierCurveTo(x2, m, x0, m, x0, yTop);
      p.closePath();
      ribbons.push({ s, d: p.toString() });
      t += v;
    });
  });
  const gridX = [501, 572.7, 643, 715, 786.7];
  const stageX = [446.7, 564, 747.7, 844];
  const clusterCx = [503.7, 648.3, 799];
  const pctX = [482.7, 580, 711.7, 853.3];
  return (
    <g>
      <text x={645.5} y={296.5} fontSize={16} textAnchor="middle" fill="#111">meta-GEO</text>
      {[337.7, 486.7].map((v) => <line key={v} x1={409} x2={878} y1={v} y2={v} stroke="#e8e8e8" strokeWidth={1} />)}
      {gridX.map((v) => <line key={v} x1={v} x2={v} y1={yTop} y2={yBot} stroke="#d8d8d8" strokeWidth={0.7} />)}
      {ribbons.map((r, i) => <path key={i} d={r.d} fill={stageColors[r.s]} fillOpacity={0.7} />)}
      <rect x={409} y={312.7} width={469.3} height={199.6} fill="none" stroke="#666" strokeWidth={1} />
      {stageNames.map((n, i) => {
        const x0 = sx(topStart[i]), x1 = sx(topStart[i + 1]);
        return (
          <g key={n}>
            <rect x={x0} y={313} width={x1 - x0} height={49.7} fill="#fff" stroke="#111" strokeWidth={1.4} />
            <text transform={`translate(${stageX[i] + 3.6},338) rotate(-90)`} fontSize={10.4} textAnchor="middle" fill="#111">{n}</text>
          </g>
        );
      })}
      {clusterNames.map((n, i) => (
        <g key={n}>
          <rect x={sx(i * 100)} y={462.3} width={sx(100) - sx(0)} height={49.6} fill="#fff" stroke="#111" strokeWidth={1.4} />
          <text x={clusterCx[i]} y={i === 2 ? 492 : 493} fontSize={21.4} textAnchor="middle" fill="#111">{n}</text>
        </g>
      ))}
      {pctLabels.map((t, i) => (
        <text key={t} x={pctX[i]} y={461.6} fontSize={9} textAnchor="middle" fill="#222">{t}</text>
      ))}
    </g>
  );
}

function PanelF() {
  const x = d3.scaleLinear().domain([-2, 4]).range([82, 339.3]);
  const y = d3.scaleLinear().domain([0, 4]).range([827.3, 663]);
  const groups = [{ d: pcaC1, c: C1 }, { d: pcaC3, c: C3 }, { d: pcaC2, c: C2 }, { d: pcaC1Top, c: C1 }];
  const legendY = [767.7, 784, 800.3];
  return (
    <g>
      <path d="M54,656.7V896H342" fill="none" stroke="#333" strokeWidth={1.1} />
      {[-2, 0, 2, 4].map((v) => (
        <g key={v}>
          <line x1={x(v)} x2={x(v)} y1={896} y2={898.5} stroke="#333" strokeWidth={0.8} />
          <text x={x(v)} y={906.5} fontSize={7.8} textAnchor="middle" fill="#4d4d4d">{v}</text>
        </g>
      ))}
      {[0, 2, 4].map((v) => (
        <g key={v}>
          <line x1={51.5} x2={54} y1={y(v)} y2={y(v)} stroke="#333" strokeWidth={0.8} />
          <text x={49.5} y={y(v) + 2.8} fontSize={7.8} textAnchor="end" fill="#4d4d4d">{v}</text>
        </g>
      ))}
      <text x={199} y={919} fontSize={11.5} textAnchor="middle" fill="#222">PC1</text>
      <text transform="translate(39,775) rotate(-90)" fontSize={11.5} textAnchor="middle" fill="#222">PC2</text>
      {groups.map((g, i) => (
        <g key={i}>
          {pairs(g.d).map(([a, b], k) => <circle key={k} cx={x(a)} cy={y(b)} r={2.5} fill={g.c} />)}
        </g>
      ))}
      <text x={357.7} y={752.5} fontSize={12} fill="#111">Clusters</text>
      {clusterNames.map((n, i) => (
        <g key={n}>
          <circle cx={366} cy={legendY[i]} r={2.1} fill={clusterColors[i]} />
          <text x={372} y={legendY[i] + 3} fontSize={8.4} fill={clusterColors[i]}>{n}</text>
        </g>
      ))}
    </g>
  );
}

function PanelG() {
  const groupX: [number, number][] = [[437.3, 558.7], [561.3, 749.3], [752, 809.3]];
  const top = 587.3, rowH = 17.68;
  const legendY = d3.scaleLinear().domain([-1, 1]).range([714.7, 666.7]);
  const val = d3.scaleLinear().domain([0, 9]).range([-1, 1]);
  const centers = [501.7, 664, 785];
  return (
    <g>
      <text x={643.3} y={544} fontSize={16} textAnchor="middle" fill="#111">meta-GEO</text>
      {clusterNames.map((n, i) => (
        <g key={n}>
          <text x={centers[i]} y={565.7} fontSize={13.8} textAnchor="middle" fill="#111">{n}</text>
          <rect x={groupX[i][0]} y={572.7} width={groupX[i][1] - groupX[i][0]} height={12.3} fill={clusterColors[i]} />
        </g>
      ))}
      <text x={812} y={582.5} fontSize={10.2} fill="#111">type</text>
      {gsvaRows.map((name, r) => {
        const parts = gsvaCells[r].split(" ");
        return (
          <g key={name}>
            {parts.map((s, g) => {
              const band = d3.scaleBand<number>().domain(d3.range(s.length)).range(groupX[g]);
              return s.split("").map((ch, k) => (
                <rect key={`${g}-${k}`} x={band(k)} y={top + r * rowH} width={band.bandwidth() + 0.2} height={rowH + 0.2} fill={gsvaColor(val(+ch))} />
              ));
            })}
            <text x={812} y={top + r * rowH + rowH / 2 + 3.6} fontSize={10.1} fill="#111">{name}</text>
          </g>
        );
      })}
      <text transform="translate(888,689) rotate(-90)" fontSize={9.4} textAnchor="middle" fill="#111">GSVA score</text>
      <rect x={897.3} y={664} width={10} height={53.3} fill="url(#gsva)" />
      {gsvaTicks.map((v) => (
        <text key={v} x={910} y={legendY(v) + 3} fontSize={8.4} fill="#111">{String(v).replace("-", "\u2212")}</text>
      ))}
    </g>
  );
}

export default function App() {
  return (
    <svg width={933} height={925} viewBox="0 0 933 925" fontFamily={SANS}
      style={{ position: "absolute", left: 0, top: 0, display: "block", background: "#fff" }}>
      <Label x={1} y={24} t="(A)" />
      <Label x={362} y={25} t="(B)" />
      <Label x={597} y={25} t="(C)" />
      <Label x={1} y={350} t="(D)" />
      <Label x={357} y={320} t="(E)" />
      <Label x={0} y={657} t="(F)" />
      <Label x={382} y={576} t="(G)" />
      <PanelA />
      <PanelB />
      <PanelC />
      <PanelD />
      <PanelE />
      <PanelF />
      <PanelG />
    </svg>
  );
}
